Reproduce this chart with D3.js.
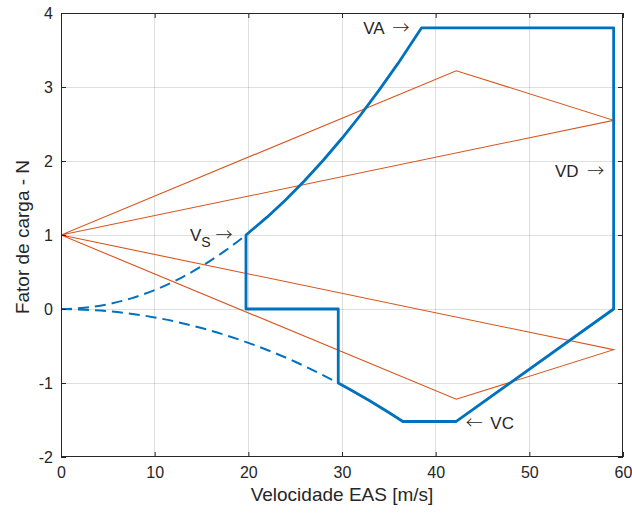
<!DOCTYPE html>
<html>
<head>
<meta charset="utf-8">
<script src="https://cdn.jsdelivr.net/npm/d3@7"></script>
<style>
  html, body { margin: 0; padding: 0; background: #fff; }
  svg { display: block; font-family: "Liberation Sans", Arial, Helvetica, sans-serif; }
  .arrow { font-family: "Noto Sans CJK JP", "DejaVu Sans", sans-serif; font-weight: 300; }
</style>
</head>
<body>
<svg id="chart" width="632" height="514"></svg>
<script>
// ---------- data ----------
const xTicks = [0, 10, 20, 30, 40, 50, 60];
const yTicks = [-2, -1, 0, 1, 2, 3, 4];

// gust lines (orange)
const gustV = [0, 42.2, 59, 0];
const gustUpperN = [1, 3.22, 2.55, 1];
const gustLowerN = [1, -1.22, -0.55, 1];

// positive stall curve below Vs (dashed)
const stallPosDashV = [0, 2.5, 5, 7.5, 10, 12.5, 15, 17.5, 19.75];
const stallPosDashN = [0, 0.016, 0.064, 0.144, 0.256, 0.40, 0.577, 0.785, 1.0];

// negative stall curve (dashed)
const stallNegDashV = [0, 5, 10, 15, 20, 25, 29.6];
const stallNegDashN = [0, -0.029, -0.114, -0.257, -0.457, -0.713, -1.0];

// maneuver envelope (solid)
const envV = [19.75, 19.75, 22, 24, 26, 28, 30, 32, 34, 36, 38.5, 59, 59, 42.2, 36.5, 35, 33, 31, 29.6, 29.6, 19.75, 19.75];
const envN = [0, 1.0, 1.241, 1.477, 1.733, 2.01, 2.307, 2.625, 2.964, 3.322, 3.8, 3.8, 0, -1.52, -1.52, -1.398, -1.243, -1.097, -1.0, 0, 0, 0.02];

// annotations
const annLabel = ["VA", "VD", "VC"];
const annArrowFirst = [false, false, true];
const annV = [37.2, 58.0, 43.2];
const annN = [3.8, 1.86, -1.54];
const annAnchor = ["end", "end", "start"];

// ---------- layout ----------
const svg = d3.select("#chart");
const L = 61, R = 623, T = 13, B = 457;
const x = d3.scaleLinear().domain([0, 60]).range([L, R]);
const y = d3.scaleLinear().domain([-2, 4]).range([B, T]);
const axisColor = "#262626";
const blue = "#0072BD", orange = "#D95319";

// grid
const g = svg.append("g");
g.selectAll(".gx").data(xTicks.slice(1, -1)).enter().append("line")
  .attr("x1", d => x(d)).attr("x2", d => x(d)).attr("y1", T).attr("y2", B)
  .attr("stroke", "#262626").attr("stroke-opacity", 0.15).attr("stroke-width", 1)
  .attr("shape-rendering", "crispEdges");
g.selectAll(".gy").data(yTicks.slice(1, -1)).enter().append("line")
  .attr("y1", d => y(d)).attr("y2", d => y(d)).attr("x1", L).attr("x2", R)
  .attr("stroke", "#262626").attr("stroke-opacity", 0.15).attr("stroke-width", 1)
  .attr("shape-rendering", "crispEdges");

// clip
svg.append("clipPath").attr("id", "clip").append("rect")
  .attr("x", L).attr("y", T).attr("width", R - L).attr("height", B - T);
const plot = svg.append("g").attr("clip-path", "url(#clip)");

const line = d3.line().x(d => x(d[0])).y(d => y(d[1]));

// gust lines
plot.append("path").datum(gustV.map((v, i) => [v, gustUpperN[i]]))
  .attr("d", line).attr("fill", "none").attr("stroke", orange).attr("stroke-width", 1.1);
plot.append("path").datum(gustV.map((v, i) => [v, gustLowerN[i]]))
  .attr("d", line).attr("fill", "none").attr("stroke", orange).attr("stroke-width", 1.1);

// dashed stall curves
const curve = d3.line().x(d => x(d[0])).y(d => y(d[1])).curve(d3.curveMonotoneX);
plot.append("path").datum(stallPosDashV.map((v, i) => [v, stallPosDashN[i]]))
  .attr("d", curve).attr("fill", "none").attr("stroke", blue).attr("stroke-width", 2)
  .attr("stroke-dasharray", "11,6");
plot.append("path").datum(stallNegDashV.map((v, i) => [v, stallNegDashN[i]]))
  .attr("d", curve).attr("fill", "none").attr("stroke", blue).attr("stroke-width", 2)
  .attr("stroke-dasharray", "11,6");

// envelope
plot.append("path").datum(envV.map((v, i) => [v, envN[i]]))
  .attr("d", line).attr("fill", "none").attr("stroke", blue).attr("stroke-width", 2.8)
  .attr("stroke-linejoin", "round");

// axes
const fmt = d => String(d);
const axB = d3.axisBottom(x).tickValues(xTicks).tickSize(-5).tickPadding(10).tickFormat(fmt);
const axT = d3.axisTop(x).tickValues(xTicks).tickSize(-5).tickFormat("");
const axLft = d3.axisLeft(y).tickValues(yTicks).tickSize(-5).tickPadding(8).tickFormat(fmt);
const axRt = d3.axisRight(y).tickValues(yTicks).tickSize(-5).tickFormat("");

function style(sel) {
  sel.select(".domain").remove();
  sel.selectAll("line").attr("stroke", axisColor);
  sel.selectAll("text").attr("fill", axisColor).style("font-size", "16px")
     .style("font-family", "'Liberation Sans', Arial, sans-serif");
}
svg.append("g").attr("transform", `translate(0,${B})`).call(axB).call(style);
svg.append("g").attr("transform", `translate(0,${T})`).call(axT).call(style);
svg.append("g").attr("transform", `translate(${L},0)`).call(axLft).call(style);
svg.append("g").attr("transform", `translate(${R},0)`).call(axRt).call(style);

// frame
svg.append("rect").attr("x", L + 0.5).attr("y", T + 0.5).attr("width", R - L - 1).attr("height", B - T - 1)
  .attr("fill", "none").attr("stroke", axisColor).attr("stroke-width", 1);

// axis labels
svg.append("text").attr("x", (L + R) / 2).attr("y", 501).attr("text-anchor", "middle")
  .attr("fill", axisColor).style("font-size", "19px").text("Velocidade EAS [m/s]");
svg.append("text").attr("transform", `translate(29,${(T + B) / 2 + 2}) rotate(-90)`)
  .attr("text-anchor", "middle").attr("fill", axisColor).style("font-size", "19px")
  .text("Fator de carga - N");

// annotations
annLabel.forEach((t, i) => {
  const txt = svg.append("text").attr("x", x(annV[i])).attr("y", y(annN[i])).attr("dy", "0.35em")
    .attr("text-anchor", annAnchor[i]).attr("fill", axisColor).style("font-size", "17px");
  if (annArrowFirst[i]) {
    txt.append("tspan").attr("class", "arrow").text("\u2190");
    txt.append("tspan").attr("dx", 3).text(" " + t);
  } else {
    txt.append("tspan").text(t + " ");
    txt.append("tspan").attr("dx", 4).attr("class", "arrow").text("\u2192");
  }
});
// V_S annotation with subscript
const vs = svg.append("text").attr("x", x(18.3)).attr("y", y(1.0)).attr("dy", "0.35em")
  .attr("text-anchor", "end").attr("fill", axisColor).style("font-size", "17px");
vs.append("tspan").text("V");
vs.append("tspan").attr("dy", "6").style("font-size", "14px").text("S");
vs.append("tspan").attr("dy", "-6").text(" ");
vs.append("tspan").attr("class", "arrow").text("\u2192");
</script>
</body>
</html>
